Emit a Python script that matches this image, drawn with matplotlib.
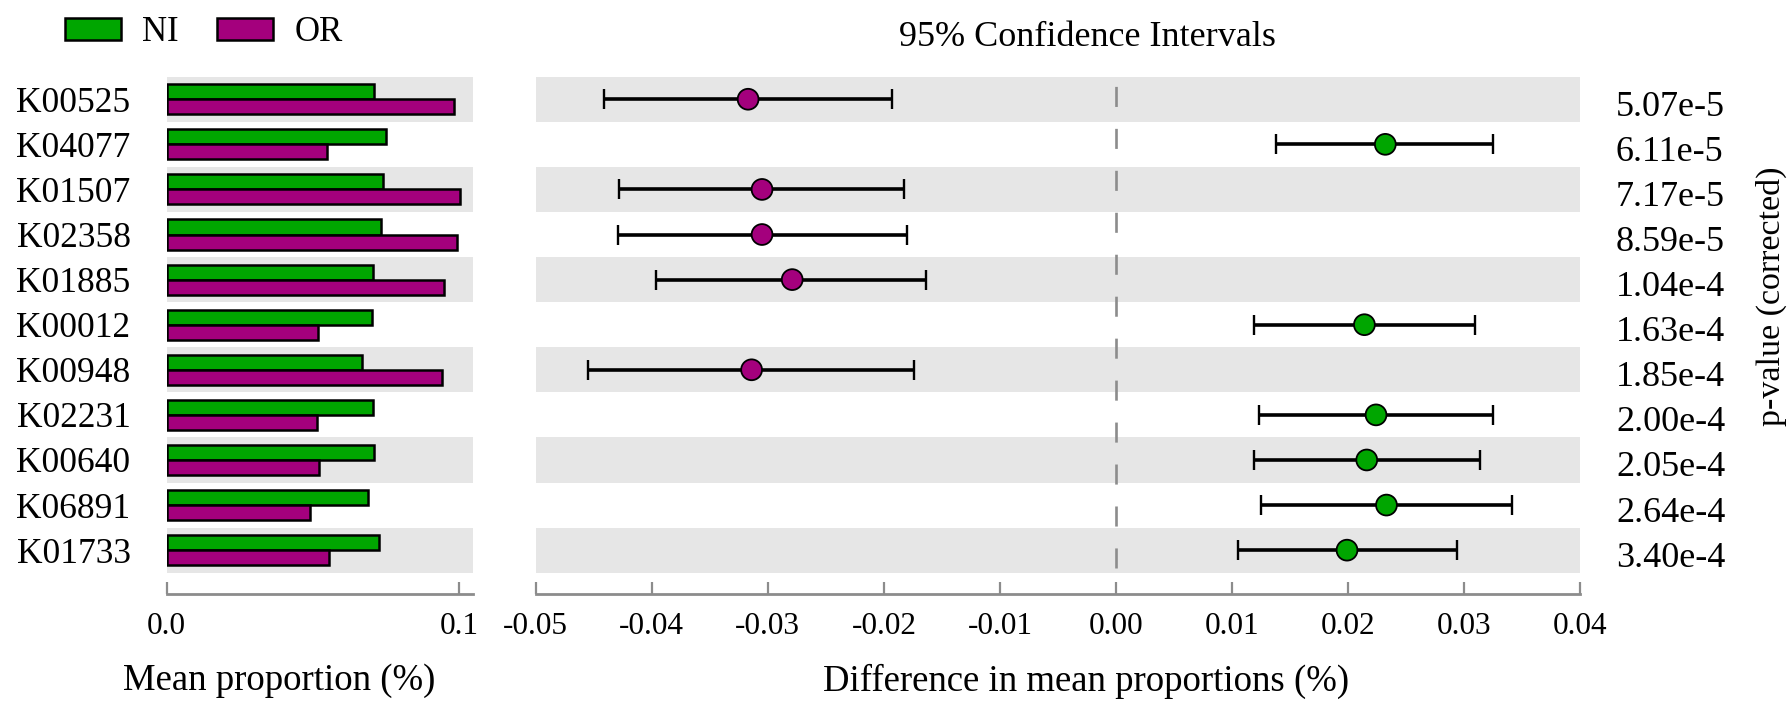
import matplotlib
matplotlib.use("Agg")
import matplotlib.pyplot as plt
import matplotlib.transforms as mtransforms
from matplotlib.patches import Patch
import numpy as np

plt.rcParams['font.family'] = ['Liberation Serif', 'DejaVu Serif']

# ---------------- data ----------------
kos = ["K00525", "K04077", "K01507", "K02358", "K01885", "K00012",
       "K00948", "K02231", "K00640", "K06891", "K01733"]
ni_mean = [0.0710, 0.0748, 0.0740, 0.0732, 0.0706, 0.0701,
           0.0669, 0.0704, 0.0709, 0.0688, 0.0725]
or_mean = [0.0982, 0.0547, 0.1002, 0.0993, 0.0949, 0.0518,
           0.0941, 0.0513, 0.0522, 0.0489, 0.0555]
diff = [-0.0317, 0.0232, -0.0305, -0.0305, -0.0279, 0.0214,
        -0.0314, 0.0224, 0.0216, 0.0233, 0.0199]
ci_low = [-0.0441, 0.0138, -0.0428, -0.0429, -0.0396, 0.0119,
          -0.0455, 0.0123, 0.0119, 0.0125, 0.0105]
ci_high = [-0.0193, 0.0325, -0.0183, -0.0180, -0.0164, 0.0309,
           -0.0174, 0.0325, 0.0314, 0.0341, 0.0294]
pvals = ["5.07e-5", "6.11e-5", "7.17e-5", "8.59e-5", "1.04e-4", "1.63e-4",
         "1.85e-4", "2.00e-4", "2.05e-4", "2.64e-4", "3.40e-4"]
groups = ["NI", "OR"]
left_ticks = [0.0, 0.1]
left_ticklabels = ["0.0", "0.1"]
right_ticks = [-0.05, -0.04, -0.03, -0.02, -0.01, 0.00, 0.01, 0.02, 0.03, 0.04]
right_ticklabels = ["-0.05", "-0.04", "-0.03", "-0.02", "-0.01",
                    "0.00", "0.01", "0.02", "0.03", "0.04"]

GREEN = "#00A600"
PURPLE = "#A4007D"
BAND = "#E6E6E6"
SPINE = "#8C8C8C"

W, H = 1790, 701
fig = plt.figure(figsize=(W / 100, H / 100), dpi=100)

def fx(px):
    return px / W

def fy(py):
    return 1 - py / H

top_px, bot_px = 76.7, 572.7
ax_b = fy(bot_px)
ax_h = (bot_px - top_px) / H

axL = fig.add_axes([fx(166.7), ax_b, (473.3 - 166.7) / W, ax_h])
axR = fig.add_axes([fx(535.7), ax_b, (1580.3 - 535.7) / W, ax_h])

n = len(kos)
y = np.arange(n)

for ax in (axL, axR):
    ax.set_ylim(n - 0.5, -0.5)
    for i in range(0, n, 2):
        ax.axhspan(i - 0.5, i + 0.5, color=BAND, zorder=0, lw=0)
    for s in ("top", "right", "left"):
        ax.spines[s].set_visible(False)
    ax.spines["bottom"].set_position(("outward", 15.6))
    ax.spines["bottom"].set_color(SPINE)
    ax.spines["bottom"].set_linewidth(2.0)
    ax.tick_params(axis="x", direction="in", length=9, width=1.6,
                   color=SPINE, labelsize=22.5, pad=13)

# ---------------- left panel: bars ----------------
bh = 1 / 3
axL.barh(y - bh / 2, ni_mean, height=bh, color=GREEN, edgecolor="black",
         linewidth=1.8, zorder=2)
axL.barh(y + bh / 2, or_mean, height=bh, color=PURPLE, edgecolor="black",
         linewidth=1.8, zorder=2)
axL.set_xlim(0, 0.1048)
axL.set_xticks(left_ticks)
axL.set_xticklabels(left_ticklabels)
axL.set_yticks(y)
axL.set_yticklabels(kos, fontsize=25.5)
axL.tick_params(axis="y", length=0, pad=26)

# ---------------- right panel: CIs ----------------
axR.set_xlim(-0.05, 0.04)
axR.set_xticks(right_ticks)
axR.set_xticklabels(right_ticklabels)
axR.set_yticks([])
axR.axvline(0, color="#8C8C8C", lw=1.9, dashes=(7.6, 8.3), zorder=1,
            ymin=0.01, ymax=0.99)

d = np.array(diff)
lo = np.array(ci_low)
hi = np.array(ci_high)
axR.errorbar(d, y, xerr=[d - lo, hi - d], fmt="none", ecolor="black",
             elinewidth=2.6, capsize=7.5, capthick=1.7, zorder=3)
colors = [PURPLE if v < 0 else GREEN for v in diff]
axR.scatter(d, y, s=15 ** 2, c=colors, edgecolors="black", linewidths=1.3,
            zorder=4)

# p-values
off = mtransforms.offset_copy(axR.transData, fig=fig, x=0, y=-8, units="dots")
pv_trans = mtransforms.blended_transform_factory(fig.transFigure, off)
for i, p in enumerate(pvals):
    fig.text(fx(1616), i, p, transform=pv_trans, fontsize=26,
             ha="left", va="center")

# ---------------- texts ----------------
fig.text(fx(1087), fy(38), "95% Confidence Intervals", fontsize=26,
         ha="center", va="center")
fig.text(fx(123), fy(681), "Mean proportion (%)", fontsize=26.5,
         ha="left", va="center")
fig.text(fx(823), fy(681), "Difference in mean proportions (%)", fontsize=26.5,
         ha="left", va="center")
fig.text(fx(1771), fy(296), "p-value (corrected)", fontsize=24.5,
         rotation=90, ha="center", va="center")

# ---------------- legend ----------------
handles = [Patch(facecolor=GREEN, edgecolor="black", linewidth=1.8, label=groups[0]),
           Patch(facecolor=PURPLE, edgecolor="black", linewidth=1.8, label=groups[1])]
fig.legend(handles=handles, loc="center left",
           bbox_to_anchor=(fx(65), fy(32.5)), ncol=2, frameon=False,
           fontsize=25, handlelength=1.61, handleheight=0.6,
           handletextpad=0.62, columnspacing=1.1, borderpad=0,
           borderaxespad=0)

fig.savefig("out.png", dpi=100)
